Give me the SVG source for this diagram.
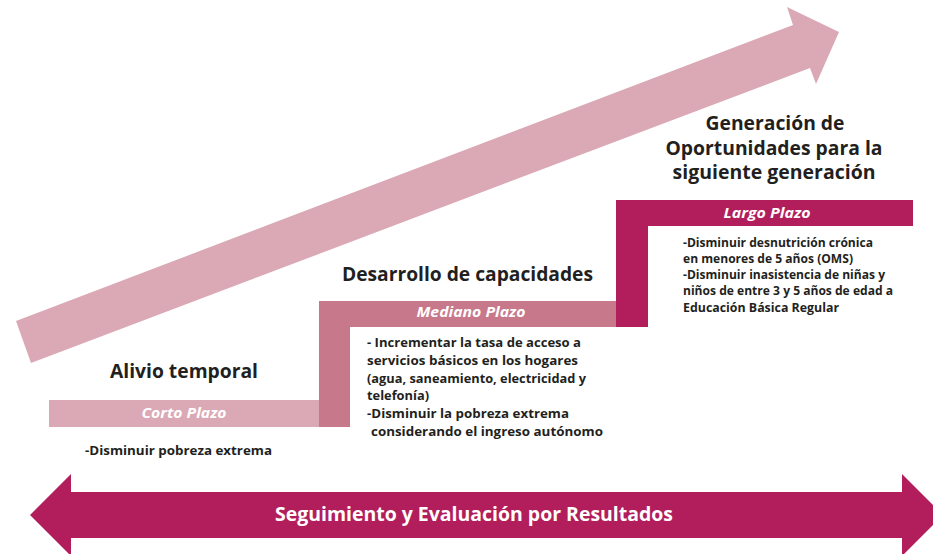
<svg xmlns="http://www.w3.org/2000/svg" width="933" height="554" viewBox="0 0 933 554">
<style>
  .h { font-family: "Open Sans", "Liberation Sans", sans-serif; font-weight: 700; fill: #231f20; }
  .lbl { font-family: "Open Sans", "Liberation Sans", sans-serif; font-weight: 700; font-style: italic; fill: #ffffff; font-size: 15px; }
  .b { font-family: "Open Sans", "Liberation Sans", sans-serif; font-weight: 700; fill: #231f20; }
  .light { fill: #dba9b5; }
  .mid { fill: #c8788b; }
  .dark { fill: #b21e5b; }
</style>
<rect width="933" height="554" fill="#ffffff"/>

<g id="connectors">
  <polygon id="arrow-growth" class="light" points="16,321 793,25 787,7 839,32 816,84 810,68 31,363"/>
  <polygon id="arrow-seguimiento" class="dark" points="30,515 71,474 71,492 902,492 902,474 943,515 902,556 902,538 71,538 71,556"/>
</g>

<g id="step-corto">
  <rect class="light" x="49" y="400" width="271" height="27"/>
  <text class="lbl" x="184" y="418" text-anchor="middle" textLength="85" lengthAdjust="spacingAndGlyphs">Corto Plazo</text>
  <text class="h" x="184" y="378" font-size="20" text-anchor="middle" textLength="148" lengthAdjust="spacingAndGlyphs">Alivio temporal</text>
  <text class="b" x="85" y="455" font-size="13" textLength="187" lengthAdjust="spacingAndGlyphs">-Disminuir pobreza extrema</text>
</g>

<g id="step-mediano">
  <polygon class="mid" points="319,301 616,301 616,327 350,327 350,427 319,427"/>
  <text class="lbl" x="471" y="317" text-anchor="middle" textLength="109" lengthAdjust="spacingAndGlyphs">Mediano Plazo</text>
  <text class="h" x="342" y="281" font-size="20" textLength="251" lengthAdjust="spacingAndGlyphs">Desarrollo de capacidades</text>
  <g class="b" font-size="13">
    <text x="367" y="347" textLength="214" lengthAdjust="spacingAndGlyphs">- Incrementar la tasa de acceso a</text>
    <text x="367" y="365" textLength="211" lengthAdjust="spacingAndGlyphs">servicios básicos en los hogares</text>
    <text x="367" y="383" textLength="219" lengthAdjust="spacingAndGlyphs">(agua, saneamiento, electricidad y</text>
    <text x="367" y="400" textLength="62" lengthAdjust="spacingAndGlyphs">telefonía)</text>
    <text x="367" y="418" textLength="202" lengthAdjust="spacingAndGlyphs">-Disminuir la pobreza extrema</text>
    <text x="371" y="436" textLength="232" lengthAdjust="spacingAndGlyphs">considerando el ingreso autónomo</text>
  </g>
</g>

<g id="step-largo">
  <polygon class="dark" points="616,200 913,200 913,226 648,226 648,327 616,327"/>
  <text class="lbl" x="767" y="218" text-anchor="middle" textLength="87" lengthAdjust="spacingAndGlyphs">Largo Plazo</text>
  <g class="h" font-size="20" text-anchor="middle">
    <text x="775" y="130" textLength="139" lengthAdjust="spacingAndGlyphs">Generación de</text>
    <text x="774" y="155" textLength="217" lengthAdjust="spacingAndGlyphs">Oportunidades para la</text>
    <text x="774" y="179" textLength="203" lengthAdjust="spacingAndGlyphs">siguiente generación</text>
  </g>
  <g class="b" font-size="12.5">
    <text x="683" y="247" textLength="190" lengthAdjust="spacingAndGlyphs">-Disminuir desnutrición crónica</text>
    <text x="683" y="263" textLength="170" lengthAdjust="spacingAndGlyphs">en menores de 5 años (OMS)</text>
    <text x="683" y="279" textLength="202" lengthAdjust="spacingAndGlyphs">-Disminuir inasistencia de niñas y</text>
    <text x="683" y="295" textLength="210" lengthAdjust="spacingAndGlyphs">niños de entre 3 y 5 años de edad a</text>
    <text x="683" y="312" textLength="156" lengthAdjust="spacingAndGlyphs">Educación Básica Regular</text>
  </g>
</g>

<g id="label-seguimiento">
  <text x="474" y="521" font-family="'Open Sans', 'Liberation Sans', sans-serif" font-weight="700" font-size="19" fill="#ffffff" text-anchor="middle" textLength="398" lengthAdjust="spacingAndGlyphs">Seguimiento y Evaluación por Resultados</text>
</g>
</svg>
